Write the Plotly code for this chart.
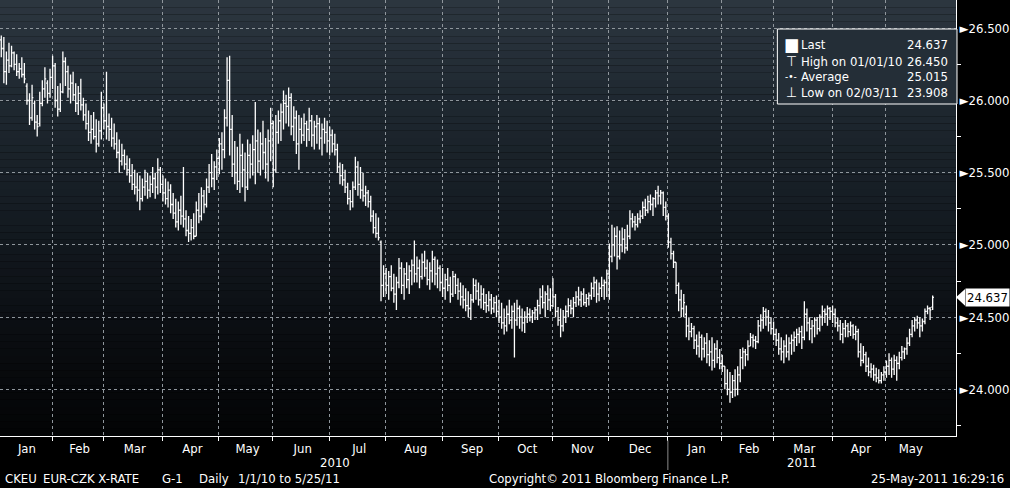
import numpy as np
import pandas as pd
import plotly.graph_objects as go

# EUR-CZK daily bars, 1 Jan 2010 - 25 May 2011
dates = pd.bdate_range("2010-01-01", "2011-05-25")

opens = [
    26.42, 26.36, 26.20, 26.28, 26.24, 26.33, 26.25, 26.20, 26.22, 26.18,
    26.10, 26.00, 25.88, 25.98, 25.85, 25.84, 25.98, 26.08, 26.12, 26.05,
    26.16, 26.24, 26.00, 25.94, 26.06, 26.27, 26.20, 26.08, 26.12, 26.04,
    25.98, 26.05, 25.97, 25.90, 25.84, 25.78, 25.80, 25.75, 25.70, 25.79,
    25.95, 25.86, 25.82, 25.80, 25.74, 25.70, 25.64, 25.58, 25.62, 25.56,
    25.52, 25.48, 25.42, 25.40, 25.38, 25.32, 25.40, 25.44, 25.38, 25.42,
    25.46, 25.40, 25.52, 25.42, 25.36, 25.32, 25.38, 25.28, 25.22, 25.16,
    25.24, 25.20, 25.18, 25.10, 25.08, 25.12, 25.06, 25.24, 25.20, 25.34,
    25.28, 25.40, 25.50, 25.46, 25.54, 25.60, 25.70, 25.66, 25.88, 26.14,
    25.80, 25.56, 25.50, 25.44, 25.62, 25.52, 25.40, 25.62, 25.56, 25.66,
    25.72, 25.58, 25.70, 25.64, 25.56, 25.72, 25.84, 25.52, 25.78, 25.86,
    25.92, 25.98, 25.96, 26.02, 25.82, 25.88, 25.70, 25.80, 25.76, 25.84,
    25.80, 25.86, 25.76, 25.82, 25.84, 25.74, 25.80, 25.78, 25.72, 25.76,
    25.70, 25.66, 25.54, 25.48, 25.45, 25.40, 25.32, 25.30, 25.40, 25.54,
    25.42, 25.38, 25.34, 25.36, 25.30, 25.20, 25.12, 25.08, 25.02, 24.72,
    24.80, 24.72, 24.78, 24.70, 24.66, 24.74, 24.84, 24.72, 24.80, 24.76,
    24.82, 24.86, 24.80, 24.84, 24.78, 24.88, 24.84, 24.76, 24.82, 24.90,
    24.80, 24.84, 24.74, 24.70, 24.76, 24.72, 24.66, 24.78, 24.72, 24.68,
    24.64, 24.62, 24.58, 24.56, 24.62, 24.72, 24.68, 24.62, 24.66, 24.60,
    24.58, 24.62, 24.56, 24.60, 24.54, 24.50, 24.46, 24.44, 24.52, 24.48,
    24.54, 24.48, 24.56, 24.50, 24.46, 24.50, 24.52, 24.50, 24.53, 24.55,
    24.58, 24.64, 24.60, 24.66, 24.62, 24.58, 24.64, 24.54, 24.48, 24.44,
    24.50, 24.54, 24.58, 24.56, 24.60, 24.64, 24.62, 24.66, 24.60, 24.63,
    24.65, 24.70, 24.74, 24.66, 24.70, 24.72, 24.74, 24.80, 24.92, 25.00,
    25.06, 24.92, 25.00, 25.04, 24.98, 25.06, 25.18, 25.16, 25.14, 25.18,
    25.20, 25.26, 25.24, 25.30, 25.28, 25.32, 25.36, 25.34, 25.36, 25.26,
    25.20, 25.02, 24.94, 24.88, 24.72, 24.62, 24.56, 24.52, 24.44, 24.40,
    24.42, 24.34, 24.30, 24.36, 24.28, 24.32, 24.24, 24.26, 24.20, 24.28,
    24.22, 24.18, 24.16, 24.04, 24.00, 23.98, 24.06, 24.00, 24.10, 24.22,
    24.26, 24.24, 24.30, 24.36, 24.34, 24.33, 24.44, 24.48, 24.54, 24.50,
    24.46, 24.42, 24.38, 24.34, 24.28, 24.26, 24.30, 24.26, 24.32, 24.34,
    24.36, 24.38, 24.40, 24.36, 24.52, 24.46, 24.42, 24.44, 24.48, 24.42,
    24.50, 24.54, 24.52, 24.56, 24.54, 24.52, 24.46, 24.44, 24.38, 24.42,
    24.44, 24.40, 24.44, 24.38, 24.40, 24.26, 24.20, 24.24, 24.16, 24.12,
    24.14, 24.10, 24.08, 24.06, 24.10, 24.12, 24.16, 24.20, 24.14, 24.20,
    24.18, 24.22, 24.26, 24.28, 24.32, 24.38, 24.44, 24.48, 24.46, 24.44,
    24.47, 24.54, 24.56, 24.57,
]

highs = [
    26.45, 26.44, 26.34, 26.40, 26.38, 26.34, 26.32, 26.26, 26.30, 26.26,
    26.12, 26.05, 26.11, 26.00, 25.90, 26.06, 26.14, 26.23, 26.14, 26.22,
    26.31, 26.26, 26.10, 26.12, 26.34, 26.30, 26.24, 26.18, 26.20, 26.12,
    26.10, 26.15, 26.02, 25.98, 25.93, 25.90, 25.92, 25.87, 25.86, 26.06,
    25.98, 26.20, 25.91, 25.88, 25.84, 25.78, 25.73, 25.70, 25.66, 25.62,
    25.60, 25.56, 25.52, 25.50, 25.48, 25.46, 25.52, 25.50, 25.48, 25.54,
    25.50, 25.60, 25.54, 25.48, 25.46, 25.44, 25.42, 25.36, 25.32, 25.30,
    25.34, 25.54, 25.24, 25.20, 25.18, 25.22, 25.30, 25.36, 25.40, 25.38,
    25.46, 25.56, 25.63, 25.58, 25.66, 25.74, 25.78, 25.94, 26.30, 26.31,
    25.90, 25.72, 25.68, 25.77, 25.70, 25.64, 25.73, 25.70, 25.76, 25.99,
    25.80, 25.78, 25.86, 25.74, 25.80, 25.95, 25.86, 25.90, 25.93, 25.98,
    26.07, 26.04, 26.09, 26.05, 25.96, 25.93, 25.90, 25.88, 25.91, 25.86,
    25.95, 25.90, 25.86, 25.90, 25.88, 25.84, 25.88, 25.86, 25.82, 25.80,
    25.77, 25.70, 25.57, 25.56, 25.52, 25.43, 25.38, 25.44, 25.61, 25.58,
    25.54, 25.50, 25.41, 25.38, 25.34, 25.24, 25.22, 25.19, 25.03, 24.86,
    24.84, 24.82, 24.86, 24.80, 24.78, 24.91, 24.88, 24.84, 24.88, 24.86,
    24.90, 25.03, 24.92, 24.90, 24.94, 24.96, 24.90, 24.88, 24.96, 24.92,
    24.90, 24.86, 24.84, 24.80, 24.84, 24.78, 24.82, 24.80, 24.77, 24.74,
    24.72, 24.70, 24.68, 24.66, 24.77, 24.76, 24.74, 24.72, 24.70, 24.66,
    24.68, 24.66, 24.64, 24.65, 24.62, 24.60, 24.56, 24.58, 24.62, 24.58,
    24.60, 24.62, 24.58, 24.56, 24.54, 24.57, 24.56, 24.55, 24.57, 24.62,
    24.70, 24.72, 24.68, 24.72, 24.70, 24.77, 24.66, 24.57, 24.56, 24.55,
    24.58, 24.63, 24.62, 24.64, 24.68, 24.71, 24.68, 24.70, 24.66, 24.67,
    24.74, 24.78, 24.76, 24.74, 24.78, 24.76, 24.83, 25.01, 25.14, 25.12,
    25.13, 25.10, 25.12, 25.11, 25.14, 25.24, 25.22, 25.20, 25.22, 25.24,
    25.30, 25.32, 25.34, 25.35, 25.33, 25.38, 25.41, 25.38, 25.37, 25.30,
    25.22, 25.05, 24.96, 24.88, 24.74, 24.69, 24.66, 24.58, 24.50, 24.46,
    24.44, 24.38, 24.40, 24.38, 24.36, 24.39, 24.34, 24.36, 24.32, 24.34,
    24.28, 24.24, 24.16, 24.14, 24.12, 24.10, 24.14, 24.16, 24.28, 24.29,
    24.28, 24.34, 24.39, 24.38, 24.37, 24.48, 24.52, 24.57, 24.56, 24.55,
    24.50, 24.47, 24.42, 24.39, 24.36, 24.34, 24.38, 24.36, 24.38, 24.40,
    24.42, 24.43, 24.44, 24.61, 24.56, 24.50, 24.48, 24.50, 24.50, 24.52,
    24.58, 24.56, 24.58, 24.57, 24.58, 24.56, 24.50, 24.48, 24.46, 24.48,
    24.46, 24.47, 24.45, 24.44, 24.42, 24.32, 24.30, 24.26, 24.22, 24.18,
    24.17, 24.15, 24.14, 24.12, 24.16, 24.20, 24.25, 24.22, 24.24, 24.23,
    24.26, 24.30, 24.29, 24.36, 24.42, 24.48, 24.50, 24.51, 24.50, 24.49,
    24.56, 24.58, 24.57, 24.65,
]

lows = [
    26.30, 26.12, 26.11, 26.19, 26.23, 26.21, 26.17, 26.15, 26.16, 26.12,
    25.97, 25.83, 25.86, 25.80, 25.75, 25.82, 25.96, 26.02, 25.98, 26.02,
    26.08, 25.95, 25.89, 25.92, 26.05, 26.10, 26.02, 25.98, 26.00, 25.92,
    25.90, 25.93, 25.86, 25.80, 25.72, 25.70, 25.73, 25.64, 25.68, 25.73,
    25.80, 25.73, 25.72, 25.68, 25.66, 25.60, 25.50, 25.55, 25.52, 25.48,
    25.43, 25.38, 25.35, 25.30, 25.24, 25.30, 25.34, 25.32, 25.33, 25.36,
    25.32, 25.35, 25.36, 25.30, 25.28, 25.26, 25.22, 25.18, 25.12, 25.10,
    25.14, 25.12, 25.06, 25.02, 25.03, 25.04, 25.06, 25.15, 25.17, 25.22,
    25.26, 25.36, 25.40, 25.38, 25.45, 25.49, 25.52, 25.60, 25.82, 25.62,
    25.47, 25.42, 25.38, 25.36, 25.40, 25.30, 25.38, 25.46, 25.48, 25.42,
    25.50, 25.48, 25.52, 25.46, 25.44, 25.58, 25.40, 25.50, 25.70, 25.72,
    25.80, 25.84, 25.82, 25.76, 25.72, 25.63, 25.52, 25.70, 25.72, 25.68,
    25.72, 25.68, 25.66, 25.70, 25.66, 25.62, 25.70, 25.64, 25.62, 25.64,
    25.62, 25.50, 25.42, 25.41, 25.36, 25.28, 25.24, 25.26, 25.38, 25.34,
    25.32, 25.30, 25.27, 25.26, 25.16, 25.08, 25.05, 25.03, 24.61, 24.64,
    24.66, 24.62, 24.68, 24.60, 24.55, 24.70, 24.66, 24.62, 24.70, 24.66,
    24.72, 24.74, 24.74, 24.70, 24.76, 24.78, 24.72, 24.69, 24.74, 24.72,
    24.70, 24.68, 24.64, 24.62, 24.68, 24.60, 24.64, 24.66, 24.62, 24.58,
    24.56, 24.54, 24.50, 24.48, 24.60, 24.62, 24.58, 24.56, 24.55, 24.53,
    24.54, 24.52, 24.53, 24.50, 24.46, 24.42, 24.38, 24.40, 24.45, 24.42,
    24.22, 24.44, 24.42, 24.40, 24.39, 24.46, 24.47, 24.46, 24.48, 24.48,
    24.52, 24.56, 24.50, 24.55, 24.54, 24.57, 24.50, 24.44, 24.36, 24.40,
    24.46, 24.50, 24.52, 24.50, 24.57, 24.58, 24.57, 24.58, 24.57, 24.58,
    24.62, 24.64, 24.60, 24.61, 24.64, 24.62, 24.64, 24.62, 24.88, 24.92,
    24.83, 24.90, 24.95, 24.94, 24.96, 25.04, 25.12, 25.10, 25.12, 25.15,
    25.18, 25.20, 25.22, 25.24, 25.20, 25.26, 25.28, 25.28, 25.20, 25.17,
    24.98, 24.90, 24.84, 24.66, 24.54, 24.50, 24.50, 24.36, 24.34, 24.36,
    24.28, 24.24, 24.22, 24.20, 24.22, 24.18, 24.16, 24.13, 24.15, 24.18,
    24.14, 24.12, 24.00, 23.96, 23.908, 23.94, 23.95, 23.96, 24.05, 24.14,
    24.16, 24.20, 24.30, 24.29, 24.28, 24.32, 24.40, 24.42, 24.44, 24.40,
    24.38, 24.34, 24.30, 24.24, 24.20, 24.18, 24.22, 24.20, 24.24, 24.26,
    24.30, 24.32, 24.28, 24.34, 24.40, 24.34, 24.32, 24.36, 24.38, 24.40,
    24.44, 24.46, 24.44, 24.48, 24.46, 24.43, 24.40, 24.34, 24.32, 24.36,
    24.36, 24.37, 24.35, 24.34, 24.22, 24.16, 24.18, 24.12, 24.09, 24.08,
    24.06, 24.05, 24.04, 24.04, 24.06, 24.08, 24.10, 24.08, 24.10, 24.06,
    24.14, 24.20, 24.21, 24.24, 24.30, 24.36, 24.40, 24.42, 24.36, 24.40,
    24.45, 24.52, 24.48, 24.55,
]

closes = [
    26.36, 26.20, 26.28, 26.24, 26.33, 26.25, 26.20, 26.22, 26.18, 26.15,
    26.00, 25.88, 26.02, 25.85, 25.82, 25.98, 26.08, 26.15, 26.05, 26.16,
    26.24, 26.00, 25.94, 26.06, 26.27, 26.20, 26.08, 26.12, 26.04, 25.98,
    26.05, 25.97, 25.90, 25.84, 25.78, 25.80, 25.75, 25.70, 25.79, 25.95,
    25.86, 25.82, 25.80, 25.74, 25.70, 25.64, 25.58, 25.62, 25.56, 25.52,
    25.48, 25.42, 25.40, 25.38, 25.32, 25.40, 25.44, 25.38, 25.42, 25.46,
    25.40, 25.52, 25.42, 25.36, 25.32, 25.38, 25.28, 25.22, 25.16, 25.24,
    25.20, 25.18, 25.10, 25.08, 25.12, 25.06, 25.24, 25.20, 25.34, 25.28,
    25.40, 25.50, 25.46, 25.54, 25.60, 25.70, 25.66, 25.88, 26.14, 25.80,
    25.56, 25.50, 25.44, 25.62, 25.52, 25.40, 25.62, 25.56, 25.66, 25.72,
    25.58, 25.70, 25.64, 25.56, 25.72, 25.84, 25.52, 25.78, 25.86, 25.92,
    25.98, 25.96, 26.02, 25.82, 25.88, 25.70, 25.80, 25.76, 25.84, 25.80,
    25.86, 25.76, 25.82, 25.84, 25.74, 25.80, 25.78, 25.72, 25.76, 25.70,
    25.66, 25.54, 25.48, 25.45, 25.40, 25.32, 25.30, 25.40, 25.54, 25.42,
    25.38, 25.34, 25.36, 25.30, 25.20, 25.12, 25.08, 25.05, 24.72, 24.80,
    24.72, 24.78, 24.70, 24.66, 24.74, 24.84, 24.72, 24.80, 24.76, 24.82,
    24.86, 24.80, 24.84, 24.78, 24.88, 24.84, 24.76, 24.82, 24.90, 24.80,
    24.84, 24.74, 24.70, 24.76, 24.72, 24.66, 24.78, 24.72, 24.68, 24.64,
    24.62, 24.58, 24.56, 24.62, 24.72, 24.68, 24.62, 24.66, 24.60, 24.58,
    24.62, 24.56, 24.60, 24.54, 24.50, 24.46, 24.44, 24.52, 24.48, 24.54,
    24.48, 24.56, 24.50, 24.46, 24.50, 24.52, 24.50, 24.53, 24.55, 24.58,
    24.64, 24.60, 24.66, 24.62, 24.58, 24.64, 24.54, 24.48, 24.44, 24.50,
    24.54, 24.58, 24.56, 24.60, 24.64, 24.62, 24.66, 24.60, 24.63, 24.65,
    24.70, 24.74, 24.66, 24.70, 24.72, 24.74, 24.80, 24.92, 25.00, 25.06,
    24.92, 25.00, 25.04, 24.98, 25.06, 25.18, 25.16, 25.14, 25.18, 25.20,
    25.26, 25.24, 25.30, 25.28, 25.32, 25.36, 25.34, 25.36, 25.26, 25.20,
    25.02, 24.94, 24.88, 24.72, 24.62, 24.56, 24.60, 24.44, 24.40, 24.42,
    24.34, 24.30, 24.36, 24.28, 24.32, 24.24, 24.26, 24.20, 24.28, 24.22,
    24.18, 24.16, 24.04, 24.00, 23.98, 24.06, 24.00, 24.10, 24.22, 24.26,
    24.24, 24.30, 24.36, 24.34, 24.33, 24.44, 24.48, 24.54, 24.50, 24.46,
    24.42, 24.38, 24.34, 24.28, 24.26, 24.30, 24.26, 24.32, 24.34, 24.36,
    24.38, 24.40, 24.36, 24.52, 24.46, 24.42, 24.44, 24.48, 24.42, 24.50,
    24.54, 24.52, 24.56, 24.54, 24.52, 24.46, 24.44, 24.38, 24.42, 24.44,
    24.40, 24.44, 24.38, 24.40, 24.26, 24.20, 24.24, 24.16, 24.12, 24.14,
    24.10, 24.08, 24.06, 24.10, 24.12, 24.16, 24.20, 24.14, 24.20, 24.18,
    24.22, 24.26, 24.28, 24.32, 24.38, 24.44, 24.48, 24.46, 24.44, 24.47,
    24.54, 24.56, 24.55, 24.637,
]

month_labels = ["Jan", "Feb", "Mar", "Apr", "May", "Jun", "Jul", "Aug", "Sep",
                "Oct", "Nov", "Dec", "Jan", "Feb", "Mar", "Apr", "May"]
year_labels = ["2010", "2011"]
y_ticks = [24.0, 24.5, 25.0, 25.5, 26.0, 26.5]

legend_rows = [
    ("Last", "24.637"),
    ("High on 01/01/10", "26.450"),
    ("Average", "25.015"),
    ("Low on 02/03/11", "23.908"),
]
last_price = 24.637

assert len(dates) == len(opens) == len(highs) == len(lows) == len(closes)

FONT = "DejaVu Sans Condensed, Liberation Sans Narrow, Arial Narrow, sans-serif"
W, H = 1010, 488
PW, PH = 958, 436

# trading-day index as x so weekends don't leave gaps
xi = np.arange(len(dates))
month_key = dates.year * 100 + dates.month
month_ids = pd.unique(month_key)
month_start = [int(xi[month_key == m][0]) for m in month_ids]
month_mid = [float(xi[month_key == m].mean()) for m in month_ids]
year_mid = [float(xi[dates.year == y].mean()) for y in (2010, 2011)]
grid_x = [s - 1.2 for s in month_start[1:]]
new_year_x = month_start[12] - 1.2

fig = go.Figure()
fig.add_trace(go.Ohlc(
    x=xi, open=opens, high=highs, low=lows, close=closes,
    increasing_line_color="white", decreasing_line_color="white",
    line_width=1.3, tickwidth=0.5, showlegend=False, hoverinfo="skip",
))

# vertical gradient behind the plot
stops = [(0.0, (44, 54, 64)), (0.25, (30, 39, 47)), (0.5, (20, 27, 34)),
         (0.75, (11, 14, 18)), (1.0, (3, 4, 5))]
n_bands = 60
shapes = []
for k in range(n_bands):
    t = (k + 0.5) / n_bands
    for (t0, c0), (t1, c1) in zip(stops[:-1], stops[1:]):
        if t0 <= t <= t1:
            f = (t - t0) / (t1 - t0)
            col = tuple(int(round(a + (b - a) * f)) for a, b in zip(c0, c1))
            break
    shapes.append(dict(
        type="rect", xref="paper", yref="paper", layer="below",
        x0=0, x1=1, y0=1 - (k + 1) / n_bands, y1=1 - k / n_bands,
        fillcolor="rgb(%d,%d,%d)" % col, line_width=0,
    ))

# legend box
bx0, bx1 = 779 / PW, 959 / PW
by1, by0 = 1 - 29 / PH, 1 - 104 / PH
shapes.append(dict(type="rect", xref="paper", yref="paper", layer="above",
                   x0=bx0, x1=bx1, y0=by0, y1=by1,
                   fillcolor="#242e37", line=dict(color="white", width=1)))

# last price marker arrow
shapes.append(dict(type="path", xref="paper", yref="y", layer="above",
                   path="M 1.0,%f L 1.0095,%f L 1.0095,%f Z" % (
                       last_price, last_price + 0.058, last_price - 0.058),
                   fillcolor="white", line_width=0))

# year separator under the axis
shapes.append(dict(type="line", xref="x", yref="paper",
                   x0=new_year_x, x1=new_year_x, y0=-0.01, y1=-0.078,
                   line=dict(color="#8a8a8a", width=1)))

annotations = []
sym = ["■", "⊤", "-•-", "⊥"]
sym_size = [18, 14, 10, 14]
row_y = [44, 61, 76, 92]
for (lab, val), s, ss, yy in zip(legend_rows, sym, sym_size, row_y):
    yp = 1 - yy / PH
    annotations.append(dict(xref="paper", yref="paper", x=793 / PW, y=yp,
                            text=s, showarrow=False, xanchor="center", yanchor="middle",
                            font=dict(family=FONT, size=ss, color="white")))
    annotations.append(dict(xref="paper", yref="paper", x=801 / PW, y=yp,
                            text=lab, showarrow=False, xanchor="left", yanchor="middle",
                            font=dict(family=FONT, size=13, color="white")))
    annotations.append(dict(xref="paper", yref="paper", x=952 / PW, y=yp,
                            text=val, showarrow=False, xanchor="right", yanchor="middle",
                            font=dict(family=FONT, size=13, color="white")))

annotations.append(dict(xref="paper", yref="y", x=1.0, y=last_price,
                        text="%.3f" % last_price, showarrow=False,
                        xanchor="left", yanchor="middle", xshift=9,
                        bgcolor="white", borderpad=1,
                        font=dict(family=FONT, size=13, color="black")))

for yl, xm in zip(year_labels, year_mid):
    annotations.append(dict(xref="x", yref="paper", x=xm, y=-(463 - PH) / PH,
                            text=yl, showarrow=False, xanchor="center", yanchor="middle",
                            font=dict(family=FONT, size=13, color="white")))

footer = [
    ("CKEU", 3, "left"), ("EUR-CZK X-RATE", 41, "left"), ("G-1", 160, "left"),
    ("Daily", 197, "left"), ("1/1/10 to 5/25/11", 236, "left"),
    ("Copyright© 2011 Bloomberg Finance L.P.", 611, "center"),
    ("25-May-2011 16:29:16", 1008, "right"),
]
for txt, px, anc in footer:
    annotations.append(dict(xref="paper", yref="paper", x=px / PW, y=-(478 - PH) / PH,
                            text=txt, showarrow=False, xanchor=anc, yanchor="middle",
                            font=dict(family=FONT, size=13, color="white")))

fig.update_layout(
    width=W, height=H, autosize=False,
    margin=dict(l=0, r=W - PW, t=0, b=H - PH),
    paper_bgcolor="black", plot_bgcolor="black",
    shapes=shapes, annotations=annotations,
    showlegend=False,
    xaxis=dict(
        range=[-0.5, 372.1], rangeslider_visible=False, fixedrange=True,
        tickmode="array", tickvals=month_mid, ticktext=month_labels,
        ticks="", showgrid=False, zeroline=False,
        showline=True, linecolor="white", linewidth=1,
        tickfont=dict(family=FONT, size=13, color="white"),
        minor=dict(tickmode="array", tickvals=grid_x, ticks="outside",
                   ticklen=4, tickcolor="white", showgrid=True,
                   gridcolor="#8f969c", griddash="3px,3px", gridwidth=1),
    ),
    yaxis=dict(
        side="right", range=[23.677, 26.696], fixedrange=True,
        tickmode="array", tickvals=y_ticks,
        ticktext=["►%.3f" % v for v in y_ticks],
        ticks="", showgrid=True, gridcolor="#8f969c", griddash="3px,3px",
        gridwidth=1, zeroline=False,
        showline=True, linecolor="white", linewidth=1,
        tickfont=dict(family=FONT, size=13, color="white"),
        minor=dict(tickmode="array", tickvals=[23.75, 24.25, 24.75, 25.25, 25.75, 26.25],
                   ticks="outside", ticklen=4, tickcolor="white", showgrid=False),
    ),
)

# page body margin would push the figure off the 1010x488 window
fig.write_html("out.html", config={"displayModeBar": False},
               post_script="document.body.style.margin='0';document.body.style.overflow='hidden';")
